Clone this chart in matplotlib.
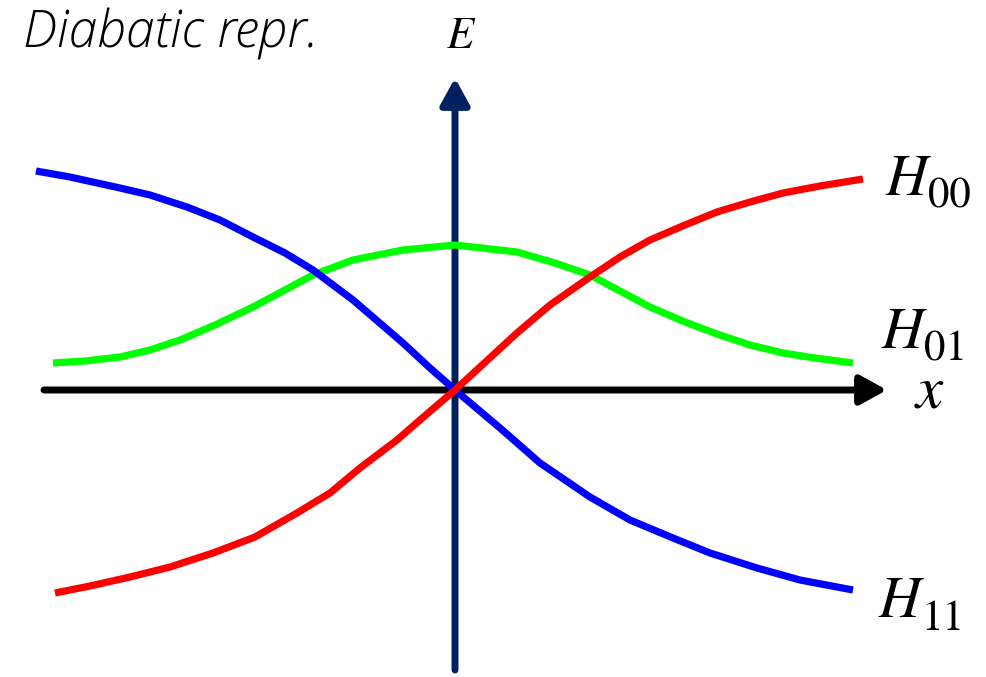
import matplotlib
matplotlib.use("Agg")
import matplotlib.pyplot as plt

plt.rcParams['mathtext.fontset'] = 'stix'

# diabatic curves
h11_x = [-4.19, -3.85, -3.35, -3.05, -2.68, -2.35, -2.02, -1.70, -1.42, -1.02, -0.52, -0.25,
         0.0, 0.45, 0.85, 1.35, 1.75, 2.18, 2.55, 3.02, 3.45, 3.98]
h11_y = [2.19, 2.13, 2.02, 1.95, 1.83, 1.70, 1.53, 1.37, 1.20, 0.90, 0.47, 0.22,
         0.0, -0.38, -0.73, -1.07, -1.30, -1.48, -1.63, -1.78, -1.90, -2.00]

h00_x = [-4.00, -3.65, -3.25, -2.85, -2.42, -2.00, -1.58, -1.25, -0.95, -0.58, -0.35,
         0.0, 0.62, 0.95, 1.35, 1.65, 1.95, 2.30, 2.62, 2.95, 3.28, 3.65, 4.08]
h00_y = [-2.03, -1.96, -1.87, -1.77, -1.63, -1.47, -1.23, -1.03, -0.78, -0.50, -0.30,
         0.0, 0.57, 0.85, 1.13, 1.33, 1.50, 1.65, 1.78, 1.88, 1.97, 2.04, 2.11]

h01_x = [-4.02, -3.70, -3.35, -3.05, -2.75, -2.40, -2.02, -1.70, -1.42, -1.02, -0.52, 0.0,
         0.62, 1.00, 1.35, 1.95, 2.30, 2.62, 2.95, 3.28, 3.60, 3.98]
h01_y = [0.27, 0.29, 0.33, 0.40, 0.50, 0.65, 0.83, 1.00, 1.15, 1.30, 1.40, 1.45,
         1.38, 1.27, 1.15, 0.83, 0.68, 0.56, 0.45, 0.37, 0.32, 0.27]

labels = ['00', '01', '11']
label_x = [4.30, 4.26, 4.23]
label_y = [1.95, 0.42, -2.27]

fig = plt.figure(figsize=(9.86, 6.77), dpi=100)
ax = fig.add_axes([0, 0, 1, 1])
ax.set_xlim(-4.55, 5.31)
ax.set_ylim(-2.87, 3.90)
ax.axis('off')

# axes arrows
ax.annotate('', xy=(4.32, 0), xytext=(-4.11, 0),
            arrowprops=dict(arrowstyle='-|>,head_length=0.4,head_width=0.22',
                            lw=5, color='black', mutation_scale=40,
                            shrinkA=0, shrinkB=0), zorder=1)
ax.annotate('', xy=(0, 3.12), xytext=(0, -2.80),
            arrowprops=dict(arrowstyle='-|>,head_length=0.4,head_width=0.22',
                            lw=5, color='#002060', mutation_scale=40,
                            shrinkA=0, shrinkB=0), zorder=1)

lw = 5.2
ax.plot(h01_x, h01_y, color='#00ff00', lw=lw, solid_capstyle='butt', zorder=2)
ax.plot(h11_x, h11_y, color='#0000ff', lw=lw, solid_capstyle='butt', zorder=3)
ax.plot(h00_x, h00_y, color='#ff0000', lw=lw, solid_capstyle='butt', zorder=4)

# H_ij labels: italic H with upright subscript digits
for lab, lx, ly in zip(labels, label_x, label_y):
    ax.text(lx, ly, 'H', fontsize=42, family='STIXGeneral', style='italic',
            ha='left', va='baseline')
    ax.annotate(lab, xy=(lx, ly), xytext=(31, -9), textcoords='offset points',
                fontsize=31, family='STIXGeneral', ha='left', va='baseline')

ax.text(4.74, -0.18, 'x', fontsize=44, family='STIXGeneral', style='italic',
        ha='center', va='baseline')
ax.text(0.05, 3.42, 'E', fontsize=32, family='STIXGeneral', style='italic',
        ha='center', va='baseline')
ax.text(-4.32, 3.43, 'Diabatic repr.', fontsize=37, style='italic',
        family='Open Sans', fontweight='light', ha='left', va='baseline')

fig.savefig('out.png', dpi=100)
